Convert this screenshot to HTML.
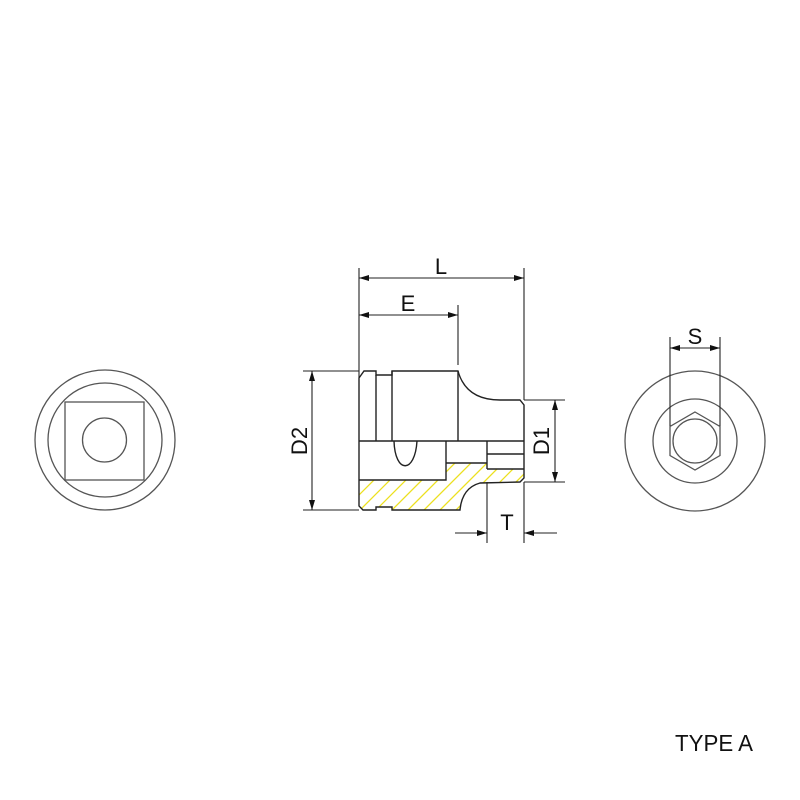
<!DOCTYPE html>
<html><head><style>html,body{margin:0;padding:0;background:#fff}svg{display:block}</style></head>
<body>
<svg width="800" height="800" viewBox="0 0 800 800" xmlns="http://www.w3.org/2000/svg">
<defs>
<marker id="a" viewBox="0 0 10 6" refX="10" refY="3" markerWidth="14" markerHeight="6" markerUnits="userSpaceOnUse" orient="auto-start-reverse"><path d="M0,0 L10,3 L0,6 Z" fill="#111"/></marker>
<clipPath id="hc"><path d="M359,480 L446,480 L446,463 L487,463 L487,469 L524,469 L524,478 L520,482 L480,483 Q462,488 460,510 L392,510 L392,507 L376,507 L376,510 L363,510 L359,506 Z"/></clipPath>
</defs>
<g fill="none" stroke="#555" stroke-width="1.3">
<circle cx="105" cy="440" r="70"/><circle cx="105" cy="440" r="57"/>
<rect x="65" y="402" width="79" height="78"/><circle cx="104.5" cy="440" r="22"/>
<circle cx="695" cy="441" r="70"/><circle cx="695" cy="441" r="42"/>
<polygon points="695,412 720,426.5 720,455.5 695,470 670,455.5 670,426.5"/>
<circle cx="695" cy="441" r="22"/>
</g>
<g clip-path="url(#hc)" stroke="#ece020" stroke-width="1.3">
<path d="M350,520 l60,-60 M366,520 l60,-60 M382,520 l60,-60 M398,520 l60,-60 M414,520 l60,-60 M430,520 l60,-60 M446,520 l60,-60 M462,520 l60,-60 M478,520 l60,-60 M494,520 l60,-60 M510,520 l60,-60 M334,520 l60,-60"/>
</g>
<g fill="none" stroke="#222" stroke-width="1.4">
<path d="M359,378 L364,371 L376,371 L376,375 L392,375 L392,371 L458,371 Q466,400 500,400 L520,400 L524,405 L524,478 L520,482 L480,483 Q462,488 460,510 L392,510 L392,507 L376,507 L376,510 L363,510 L359,506 Z"/>
<path d="M376,375 L376,441 M392,371 L392,441 M458,371 L458,441 M359,441 L524,441 M359,480 L446,480 L446,441 M446,463 L487,463 M487,441 L487,469 M487,454 L524,454 M487,469 L524,469"/>
<path d="M394,441 C395,474 415,474 417,441"/>
</g>
<g stroke="#222" stroke-width="1.1" fill="none">
<path d="M359,268 L359,378 M524,268 L524,400 M458,305 L458,365 M303,371 L359,371 M303,510 L359,510 M524,400 L565,400 M524,482 L565,482 M487,482 L487,543 M524,482 L524,543 M670,337 L670,426 M720,337 L720,426"/>
<line x1="359" y1="278" x2="524" y2="278" marker-start="url(#a)" marker-end="url(#a)"/>
<line x1="359" y1="315" x2="458" y2="315" marker-start="url(#a)" marker-end="url(#a)"/>
<line x1="312" y1="371" x2="312" y2="510" marker-start="url(#a)" marker-end="url(#a)"/>
<line x1="555" y1="400" x2="555" y2="482" marker-start="url(#a)" marker-end="url(#a)"/>
<line x1="455" y1="533" x2="487" y2="533" marker-end="url(#a)"/>
<line x1="557" y1="533" x2="524" y2="533" marker-end="url(#a)"/>
<line x1="670" y1="348" x2="720" y2="348" marker-start="url(#a)" marker-end="url(#a)"/>
</g>
<g font-family="Liberation Sans, sans-serif" font-size="22" fill="#111" text-anchor="middle">
<text x="441" y="274">L</text>
<text x="408" y="311">E</text>
<text x="695" y="344">S</text>
<text x="507" y="530">T</text>
<text transform="translate(307,441) rotate(-90)">D2</text>
<text transform="translate(549,441) rotate(-90)">D1</text>
<text x="714" y="751" font-size="23" text-anchor="middle" textLength="78" lengthAdjust="spacingAndGlyphs">TYPE A</text>
</g>
</svg>
</body></html>
